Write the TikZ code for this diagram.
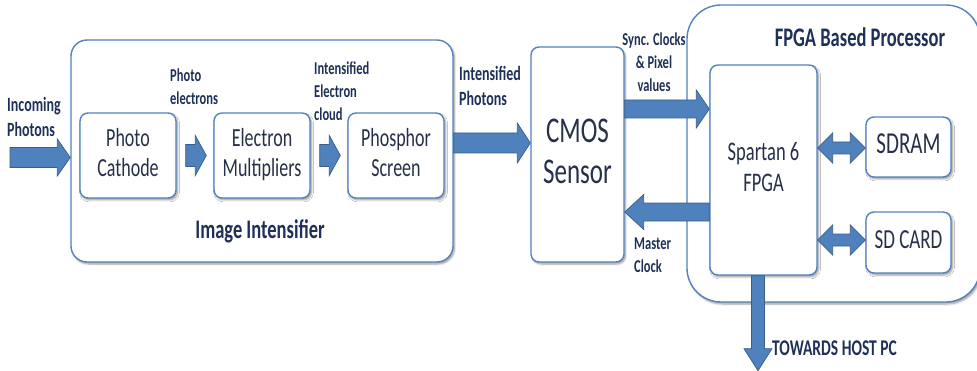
\documentclass[tikz,border=0pt]{standalone}
\usepackage{fontspec}
\setmainfont{Carlito}
\usetikzlibrary{calc,shadows.blur}

\definecolor{boxline}{RGB}{84,130,190}
\definecolor{arrowfill}{RGB}{79,129,189}
\definecolor{arrowline}{RGB}{56,93,138}
\definecolor{boxtext}{RGB}{38,48,72}
\definecolor{labeltext}{RGB}{31,48,88}

% text is set slightly tall, as in the original artwork
\newcommand\stk[2]{\scalebox{1}[1.45]{\begin{tabular}{@{}#1@{}}#2\end{tabular}}}

% block arrow: tail, tip, shaft half-width, head half-width, head length
\newcommand\blockarrow[5]{%
  \coordinate (ba-base) at ($(#2)!#5!(#1)$);
  \draw[barrow] ($(#1)!#3!90:(#2)$) -- ($(ba-base)!#3!-90:(#1)$)
    -- ($(ba-base)!#4!-90:(#1)$) -- (#2) -- ($(ba-base)!#4!90:(#1)$)
    -- ($(ba-base)!#3!90:(#1)$) -- ($(#1)!#3!-90:(#2)$) -- cycle;}

% two-headed block arrow: end, end, shaft half-width, head half-width, head length
\newcommand\doublearrow[5]{%
  \coordinate (da-a) at ($(#1)!#5!(#2)$);
  \coordinate (da-b) at ($(#2)!#5!(#1)$);
  \draw[barrow] (#1) -- ($(da-a)!#4!90:(#2)$) -- ($(da-a)!#3!90:(#2)$)
    -- ($(da-b)!#3!-90:(#1)$) -- ($(da-b)!#4!-90:(#1)$) -- (#2)
    -- ($(da-b)!#4!90:(#1)$) -- ($(da-b)!#3!90:(#1)$)
    -- ($(da-a)!#3!-90:(#2)$) -- ($(da-a)!#4!-90:(#2)$) -- cycle;}

\begin{document}
\begin{tikzpicture}[x=1pt,y=1pt,
  box/.style={draw=boxline, line width=1.4pt, fill=white, rounded corners=8pt,
    inner sep=0pt, text=boxtext,
    blur shadow={shadow xshift=1.5pt, shadow yshift=-2pt, shadow blur steps=5, shadow opacity=40}},
  group/.style={box, rounded corners=16pt},
  boxfont/.style={font=\fontsize{18}{20.5}\selectfont},
  title/.style={font=\fontsize{18.5}{22}\selectfont\bfseries, text=labeltext, inner sep=0pt},
  lbl/.style={font=\fontsize{12.5}{16}\selectfont\bfseries, text=labeltext, inner sep=0pt},
  biglbl/.style={font=\fontsize{14}{17}\selectfont\bfseries, text=labeltext, inner sep=0pt},
  barrow/.style={fill=arrowfill, draw=arrowline, line width=0.7pt, line join=miter}]

\useasboundingbox (0,0) rectangle (977,370);
\clip (0,0) rectangle (977,370);

% ---- image intensifier ----
\node[group, minimum width=382pt, minimum height=222pt] (ii) at (262,219) {};
\node[title] (iit) at (260,138) {\stk{c}{Image Intensifier}};
\node[box, boxfont, minimum width=96pt, minimum height=85pt] (cath) at (128,214.5) {\stk{c}{Photo\\Cathode}};
\node[box, boxfont, minimum width=96pt, minimum height=85pt] (emul) at (262,214.5) {\stk{c}{Electron\\Multipliers}};
\node[box, boxfont, minimum width=96pt, minimum height=85pt] (phos) at (396,214.5) {\stk{c}{Phosphor\\Screen}};

% ---- sensor ----
\node[box, font=\fontsize{25}{28.5}\selectfont, minimum width=93pt, minimum height=215pt] (cmos) at (577.5,215.5) {\stk{c}{CMOS\\Sensor}};

% ---- FPGA processor ----
\node[group, rounded corners=34pt, minimum width=293pt, minimum height=297pt] (fpga) at (833.5,216.5) {};
\node[title] (fpgat) at (860,330) {\stk{c}{FPGA Based Processor}};
\node[box, font=\fontsize{18.5}{20.7}\selectfont, minimum width=107pt, minimum height=210pt] (sp) at (763.5,200) {\stk{c}{Spartan 6\\FPGA}};
\node[box, font=\fontsize{21}{24}\selectfont, minimum width=85pt, minimum height=60pt] (sdram) at (908.5,223) {\stk{c}{SDRAM}};
\node[box, font=\fontsize{19}{22}\selectfont, minimum width=85pt, minimum height=61pt] (sdc) at (908.5,127.5) {\stk{c}{SD CARD}};

% ---- connector end points ----
\coordinate (inS) at (10,212.5);
\coordinate (inE) at (ii.west |- inS);
\coordinate (a1S) at ($(cath.east)+(9,0)$);
\coordinate (a1E) at ($(emul.west)+(-7,0)$);
\coordinate (a2S) at ($(emul.east)+(9,0)$);
\coordinate (a2E) at ($(phos.west)+(-7,0)$);
\coordinate (ipS) at ($(ii.east)+(0,8)$);
\coordinate (ipE) at (cmos.west |- ipS);
\coordinate (syS) at ($(cmos.east)+(0,45.5)$);
\coordinate (syE) at (sp.west |- syS);
\coordinate (mcS) at ($(sp.west)+(0,-42)$);
\coordinate (mcE) at (cmos.east |- mcS);
\coordinate (d1S) at ($(sp.east)+(0,22)$);
\coordinate (d1E) at (sdram.west |- d1S);
\coordinate (d2S) at ($(sp.east)+(0,-70)$);
\coordinate (d2E) at (sdc.west |- d2S);
\coordinate (dnS) at ($(sp.south)+(-5.5,0)$);
\coordinate (dnE) at ($(dnS)+(0,-95)$);

% ---- connectors ----
\blockarrow{inS}{inE}{10pt}{18.5pt}{13pt}
\blockarrow{a1S}{a1E}{11pt}{20pt}{11pt}
\blockarrow{a2S}{a2E}{11pt}{20pt}{11pt}
\blockarrow{ipS}{ipE}{10pt}{20pt}{13pt}
\blockarrow{syS}{syE}{9pt}{19pt}{13pt}
\blockarrow{mcS}{mcE}{9pt}{17.5pt}{19pt}
\doublearrow{d1S}{d1E}{6pt}{15pt}{15pt}
\doublearrow{d2S}{d2E}{6pt}{15pt}{15pt}
\blockarrow{dnS}{dnE}{6.5pt}{14pt}{22pt}

% ---- labels ----
\node[biglbl, anchor=west] (lin) at (7,251) {\stk{l}{Incoming\\Photons}};
\node[lbl, anchor=west] (lpe) at (170,282) {\stk{l}{Photo\\electrons}};
\node[lbl, anchor=west] (lie) at (314,277) {\stk{l}{Intensified\\Electron\\cloud}};
\node[biglbl, anchor=west] (lip) at (459,282) {\stk{l}{Intensified\\Photons}};
\node[lbl] (lsy) at (654,306) {\stk{c}{Sync. Clocks\\\& Pixel\\values}};
\node[lbl, anchor=west] (lmc) at (634,113.5) {\stk{l}{Master\\Clock}};
\node[biglbl, font=\fontsize{15.5}{18}\selectfont\bfseries, anchor=west] (lhp) at (772,20) {\stk{l}{TOWARDS HOST PC}};
\end{tikzpicture}
\end{document}
